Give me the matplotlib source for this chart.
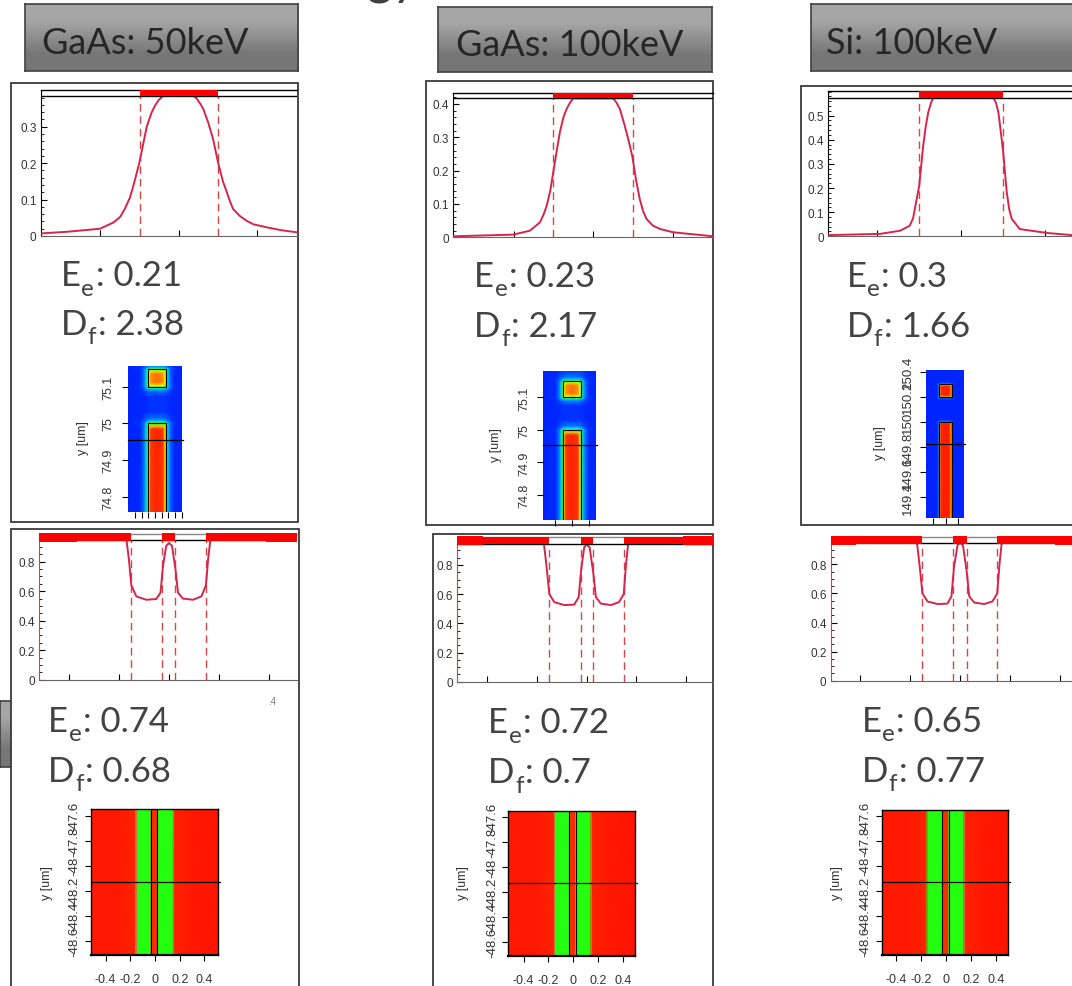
import numpy as np
import matplotlib.pyplot as plt
from matplotlib.colors import LinearSegmentedColormap
from matplotlib.patches import Rectangle

W, H = 1072, 987

plt.rcParams['font.family'] = ['Liberation Sans', 'DejaVu Sans']

# ---------------- values ----------------
headers = ["GaAs: 50keV", "GaAs: 100keV", "Si: 100keV"]
ee_top = ["0.21", "0.23", "0.3"]
df_top = ["2.38", "2.17", "1.66"]
ee_bot = ["0.74", "0.72", "0.65"]
df_bot = ["0.68", "0.7", "0.77"]

# top row: single wire, intensity profile
top_x_gaas50 = [-0.352, -0.28, -0.201, -0.167, -0.150, -0.138, -0.125, -0.116, -0.101, -0.082,
                -0.070, -0.061, -0.052, -0.040, 0.036, 0.045, 0.055, 0.062, 0.075, 0.087,
                0.100, 0.112, 0.122, 0.130, 0.138, 0.155, 0.172, 0.190, 0.223, 0.260, 0.301]
top_y_gaas50 = [0.007, 0.012, 0.020, 0.037, 0.052, 0.074, 0.105, 0.138, 0.200, 0.300,
                0.338, 0.358, 0.373, 0.385, 0.385, 0.378, 0.362, 0.349, 0.310, 0.266,
                0.200, 0.150, 0.120, 0.095, 0.074, 0.055, 0.042, 0.032, 0.024, 0.016, 0.010]
top_x_gaas100 = [-0.352, -0.201, -0.159, -0.134, -0.125, -0.117, -0.108, -0.1006, -0.092, -0.084,
                 -0.075, -0.067, -0.058, -0.050, 0.050, 0.058, 0.067, 0.078, 0.088, 0.098,
                 0.108, 0.117, 0.125, 0.134, 0.150, 0.168, 0.201, 0.302]
top_y_gaas100 = [0.003, 0.008, 0.020, 0.045, 0.068, 0.095, 0.140, 0.195, 0.258, 0.315,
                 0.360, 0.385, 0.405, 0.417, 0.417, 0.405, 0.385, 0.340, 0.295, 0.245,
                 0.170, 0.115, 0.080, 0.055, 0.035, 0.025, 0.015, 0.003]
top_x_si100 = [-0.317, -0.194, -0.146, -0.123, -0.115, -0.111, -0.1005, -0.091, -0.085, -0.079,
               -0.072, -0.067, 0.076, 0.082, 0.088, 0.094, 0.0995, 0.108, 0.114, 0.120,
               0.139, 0.203, 0.263, 0.300]
top_y_si100 = [0.005, 0.010, 0.023, 0.044, 0.075, 0.113, 0.210, 0.376, 0.455, 0.514,
               0.555, 0.573, 0.573, 0.555, 0.514, 0.430, 0.348, 0.182, 0.110, 0.072,
               0.030, 0.014, 0.005, 0.004]
top_edges = [-0.1, 0.1]

# bottom row: split wire, intensity profile
bot_x_gaas50 = [-0.52, -0.2, -0.171, -0.161, -0.151, -0.131, -0.091, -0.051, -0.034, -0.024, -0.011, 0.0,
                0.012, 0.026, 0.036, 0.056, 0.096, 0.13, 0.148, 0.157, 0.166, 0.2, 0.512]
bot_y_gaas50 = [0.965, 0.965, 0.954, 0.82, 0.64, 0.565, 0.542, 0.547, 0.59, 0.773, 0.908, 0.927,
                0.908, 0.75, 0.59, 0.55, 0.542, 0.565, 0.64, 0.82, 0.95, 0.965, 0.965]
bot_x_gaas100 = [-0.52, -0.2, -0.172, -0.162, -0.150, -0.13, -0.09, -0.05, -0.032, -0.022, -0.01, 0.0,
                 0.012, 0.027, 0.037, 0.057, 0.097, 0.13, 0.149, 0.158, 0.167, 0.2, 0.509]
bot_y_gaas100 = [0.965, 0.965, 0.95, 0.80, 0.60, 0.545, 0.525, 0.528, 0.58, 0.77, 0.92, 0.94,
                 0.92, 0.74, 0.58, 0.535, 0.525, 0.545, 0.60, 0.80, 0.95, 0.965, 0.965]
bot_x_si100 = [-0.517, -0.2, -0.172, -0.162, -0.150, -0.13, -0.09, -0.05, -0.034, -0.024, -0.01, 0.0,
               0.012, 0.027, 0.037, 0.057, 0.097, 0.13, 0.149, 0.158, 0.167, 0.2, 0.51]
bot_y_si100 = [0.965, 0.965, 0.95, 0.80, 0.60, 0.545, 0.527, 0.53, 0.58, 0.78, 0.93, 0.95,
               0.93, 0.75, 0.58, 0.537, 0.527, 0.545, 0.60, 0.80, 0.95, 0.965, 0.965]
bot_edges_gaas50 = [-0.151, -0.027, 0.026, 0.150]
bot_edges_gaas100 = [-0.150, -0.024, 0.027, 0.150]
bot_edges_si100 = [-0.150, -0.027, 0.027, 0.150]

# top row field maps: column profiles (0 = background, 1 = peak)
prof_bg = [0.10, 0.11, 0.12, 0.13, 0.13, 0.14, 0.14, 0.14, 0.14, 0.14, 0.13, 0.13, 0.12, 0.11, 0.10]
prof_halo2 = [0.10, 0.12, 0.16, 0.20, 0.22, 0.24, 0.25, 0.25, 0.25, 0.24, 0.22, 0.20, 0.16, 0.12, 0.10]
prof_halo = [0.10, 0.13, 0.20, 0.28, 0.33, 0.36, 0.38, 0.38, 0.38, 0.36, 0.33, 0.28, 0.20, 0.13, 0.10]
prof_ring = [0.10, 0.14, 0.22, 0.34, 0.45, 0.50, 0.52, 0.52, 0.52, 0.50, 0.45, 0.34, 0.22, 0.14, 0.10]
prof_wtop = [0.10, 0.13, 0.22, 0.34, 0.48, 0.62, 0.72, 0.75, 0.72, 0.62, 0.48, 0.34, 0.22, 0.13, 0.10]
prof_wire = [0.10, 0.12, 0.22, 0.34, 0.48, 0.72, 0.93, 0.97, 0.93, 0.72, 0.48, 0.34, 0.22, 0.12, 0.10]
prof_sedge = [0.10, 0.13, 0.22, 0.34, 0.48, 0.60, 0.66, 0.68, 0.66, 0.60, 0.48, 0.34, 0.22, 0.13, 0.10]
prof_score = [0.10, 0.12, 0.22, 0.34, 0.48, 0.66, 0.80, 0.85, 0.80, 0.66, 0.48, 0.34, 0.22, 0.12, 0.10]
prof_gaas = {'bg': prof_bg, 'halo2': prof_halo2, 'halo': prof_halo, 'ring': prof_ring,
             'wtop': prof_wtop, 'wire': prof_wire, 'sedge': prof_sedge, 'score': prof_score}
# silicon map is sharper
prof_si = {'bg': [0.10] * 15,
           'halo': [0.10, 0.10, 0.11, 0.13, 0.18, 0.22, 0.24, 0.24, 0.24, 0.22, 0.18, 0.13, 0.11, 0.10, 0.10],
           'ring': [0.10, 0.10, 0.12, 0.16, 0.30, 0.48, 0.52, 0.52, 0.52, 0.48, 0.30, 0.16, 0.12, 0.10, 0.10],
           'wtop': [0.10, 0.10, 0.11, 0.14, 0.30, 0.70, 0.85, 0.88, 0.85, 0.70, 0.30, 0.14, 0.11, 0.10, 0.10],
           'wire': [0.10, 0.10, 0.10, 0.12, 0.22, 0.75, 0.97, 0.98, 0.97, 0.75, 0.22, 0.12, 0.10, 0.10, 0.10],
           'sedge': [0.10, 0.10, 0.11, 0.14, 0.28, 0.62, 0.78, 0.80, 0.78, 0.62, 0.28, 0.14, 0.11, 0.10, 0.10],
           'score': [0.10, 0.10, 0.10, 0.12, 0.22, 0.75, 0.96, 0.97, 0.96, 0.75, 0.22, 0.12, 0.10, 0.10, 0.10]}

ht_x_gaas50 = [-0.08, -0.045, -0.034, -0.027, -0.022, -0.018, -0.012, 0.006, 0.024, 0.030, 0.034, 0.039, 0.046, 0.057, 0.08]
ht_y_gaas50 = [74.757, 74.985, 74.993, 75.0, 75.005, 75.012, 75.03, 75.075, 75.09, 75.096, 75.1,
               75.104, 75.112, 75.136, 75.144, 75.148, 75.152, 75.156]
ht_rows_gaas50 = ['wire', 'wire', 'wtop', 'ring', 'halo', 'halo2', 'bg', 'bg', 'halo2', 'halo', 'ring',
                  'sedge', 'score', 'score', 'sedge', 'ring', 'halo', 'halo2']
ht_x_gaas100 = [-0.085, -0.05, -0.04, -0.033, -0.028, -0.024, -0.018, 0.0, 0.017, 0.023, 0.027, 0.032, 0.039, 0.05, 0.07]
ht_y_gaas100 = [74.724, 74.985, 74.993, 75.0, 75.005, 75.012, 75.03, 75.075, 75.09, 75.096, 75.1,
                75.104, 75.112, 75.138, 75.146, 75.15, 75.154, 75.162, 75.182]
ht_rows_gaas100 = ['wire', 'wire', 'wtop', 'ring', 'halo', 'halo2', 'bg', 'bg', 'halo2', 'halo', 'ring',
                   'sedge', 'score', 'score', 'sedge', 'ring', 'halo', 'halo2', 'bg']
ht_x_si100 = [-0.079, -0.05, -0.04, -0.033, -0.028, -0.024, -0.018, -0.001, 0.016, 0.022, 0.026, 0.031, 0.038, 0.05, 0.073]
ht_y_si100 = [149.233, 149.99, 149.996, 150.0, 150.006, 150.02, 150.18, 150.194, 150.2, 150.206,
              150.215, 150.287, 150.296, 150.302, 150.308, 150.32, 150.414]
ht_rows_si100 = ['wire', 'wire', 'wtop', 'ring', 'halo', 'bg', 'bg', 'halo', 'ring', 'sedge',
                 'score', 'score', 'sedge', 'ring', 'halo', 'bg', 'bg']

# bottom row field maps: profile across x (uniform along y)
hb_x_gaas50 = [-0.52, -0.30, -0.156, -0.154, -0.033, -0.030, -0.027, 0.014, 0.017, 0.020, 0.147, 0.149, 0.30, 0.51]
hb_v_gaas50 = [0.985, 0.99, 0.965, 0.50, 0.50, 0.93, 0.95, 0.95, 0.93, 0.50, 0.50, 0.97, 0.99, 1.0]
hb_x_gaas100 = [-0.52, -0.30, -0.154, -0.152, -0.034, -0.030, -0.026, 0.015, 0.018, 0.021, 0.142, 0.144, 0.30, 0.51]
hb_v_gaas100 = [0.985, 0.99, 0.965, 0.50, 0.50, 0.93, 0.95, 0.95, 0.93, 0.50, 0.50, 0.97, 0.99, 1.0]
hb_x_si100 = [-0.52, -0.30, -0.153, -0.151, -0.032, -0.028, -0.024, 0.018, 0.020, 0.024, 0.143, 0.145, 0.30, 0.51]
hb_v_si100 = [0.985, 0.99, 0.965, 0.50, 0.50, 0.93, 0.95, 0.95, 0.93, 0.50, 0.50, 0.97, 0.99, 1.0]

ht_yticks_gaas = [74.8, 74.9, 75.0, 75.1]
ht_ylabels_gaas = ['74.8', '74.9', '75', '75.1']
ht_yticks_si = [149.4, 149.6, 149.8, 150.0, 150.2, 150.4]
ht_ylabels_si = ['149.4', '149.6', '149.8', '150', '150.2', '150.4']
hb_yticks = [-48.6, -48.4, -48.2, -48.0, -47.8, -47.6]
hb_ylabels = ['-48.6', '-48.4', '-48.2', '-48', '-47.8', '-47.6']
hb_xticks = [-0.4, -0.2, 0, 0.2, 0.4]
hb_xlabels = ['-0.4', '-0.2', '0', '0.2', '0.4']

# ---------------- drawing ----------------
field = LinearSegmentedColormap.from_list('field', [
    (0.0, '#0010ff'), (0.12, '#0028ff'), (0.28, '#0090ff'), (0.38, '#00e8e0'),
    (0.5, '#22ff10'), (0.66, '#e8ff00'), (0.8, '#ff9000'), (0.93, '#ff3800'), (1.0, '#ff1400')])
grays = LinearSegmentedColormap.from_list('grays', ['#a6a6a6', '#767676'])
curve_c = '#d6254d'
dash_c = '#d94444'
txt_font = dict(family=['Lato', 'DejaVu Sans'], weight='normal')

fig = plt.figure(figsize=(W / 100, H / 100), dpi=100)
renderer = fig.canvas.get_renderer()


def px(x0, y0, x1, y1):
    return [x0 / W, 1 - y1 / H, (x1 - x0) / W, (y1 - y0) / H]


def frame(x0, y0, x1, y1):
    fig.add_artist(Rectangle((x0 / W, 1 - y1 / H), (x1 - x0) / W, (y1 - y0) / H,
                             transform=fig.transFigure, fc='white', ec='#3a3a3a', lw=1.3, zorder=-1))


def gray_box(rect, z=0):
    ax = fig.add_axes(px(*rect), zorder=z)
    ax.imshow([[0], [1]], cmap=grays, aspect='auto', extent=(0, 1, 0, 1), interpolation='bilinear')
    ax.set_xticks([]); ax.set_yticks([])
    for s in ax.spines.values():
        s.set_color('#404040'); s.set_linewidth(1.2)


def ftext(x, y, s, **kw):
    return fig.text(x / W, 1 - y / H, s, ha='left', va='baseline', **kw)


def sub_label(x, y, main, sub, rest, size=25, color='#434343'):
    # letter, lowered subscript, then the value
    t = ftext(x, y, main, fontsize=size, color=color, **txt_font)
    x1 = t.get_window_extent(renderer).x1 + 0.5
    t = ftext(x1, y + 9.5, sub, fontsize=size * 0.7, color=color, **txt_font)
    x2 = t.get_window_extent(renderer).x1 + 1.5
    ftext(x2, y, rest, fontsize=size, color=color, **txt_font)


def top_profile(rect, xs, ys, xlim, ytop, yline, yticks, edges):
    ax = fig.add_axes(px(*rect))
    ax.set_facecolor('none')
    ax.set_xlim(*xlim); ax.set_ylim(0, ytop)
    ax.plot(xs, ys, color=curve_c, lw=1.4, zorder=3)
    for e in edges:
        ax.plot([e, e], [0, yline], color=dash_c, lw=1, dashes=(5.5, 3.5), zorder=2)
    ax.axhline(ytop, color='black', lw=1, clip_on=False)
    ax.axhline(yline, color='black', lw=1, zorder=4)
    ax.fill_between(edges, yline, ytop, color='#ff0000', lw=0, zorder=5)
    for s in ['top', 'right']:
        ax.spines[s].set_visible(False)
    ax.spines['bottom'].set_color('#666666')
    ax.set_yticks(yticks, ['0' if v == 0 else f'{v:g}' for v in yticks])
    ax.set_yticks(np.arange(0, ytop, 0.02), minor=True)
    ax.set_xticks([-0.2, 0, 0.2], [])
    ax.tick_params(direction='in', length=4, width=0.8, labelsize=8.5, labelcolor='#333333', pad=3)
    ax.tick_params(which='minor', direction='in', length=2, width=0.6)
    return ax


def bot_profile(rect, xs, ys, xlim, edges, thick):
    ax = fig.add_axes(px(*rect))
    ax.set_facecolor('none')
    ax.set_xlim(*xlim); ax.set_ylim(0, 0.99)
    ax.plot(xs, ys, color=curve_c, lw=1.4, zorder=3)
    for e in edges:
        ax.plot([e, e], [0, 0.945], color=dash_c, lw=1, dashes=(5.5, 3.5), zorder=2)
    ax.hlines([0.945], xlim[0], xlim[1], colors='black', lw=1, zorder=4)
    ax.hlines([0.99], xlim[0], xlim[1], colors='#888888', lw=1, zorder=4, clip_on=False)
    segs = [(xlim[0], edges[0]), (edges[1], edges[2]), (edges[3], xlim[1])]
    for a, b in segs:
        ax.fill_between([a, b], 0.942, 0.992, color='#ff0000', lw=0, zorder=5, clip_on=False)
    for a, b in thick:
        ax.fill_between([a, b], 0.935, 0.998, color='#ff0000', lw=0, zorder=5, clip_on=False)
    for s in ['top', 'right']:
        ax.spines[s].set_visible(False)
    ax.spines['bottom'].set_color('#666666')
    ax.spines['left'].set_color('#e03a3a')
    ax.set_yticks([0, 0.2, 0.4, 0.6, 0.8], ['0', '0.2', '0.4', '0.6', '0.8'])
    ax.set_yticks(np.arange(0, 0.95, 0.05), minor=True)
    ax.set_xticks(hb_xticks, [])
    ax.tick_params(direction='in', length=4, width=0.8, labelsize=8.5, labelcolor='#333333', pad=3)
    ax.tick_params(which='minor', direction='in', length=2, width=0.6)
    return ax


def heat_top(rect, xn, yn, rows, prof, xlim, ylim, wire_x, wire_top, sq_y, hline, xticks,
             yticks, ylabels, lab_font, lab_pad, ylab_xy):
    ax = fig.add_axes(px(*rect))
    C = np.array([prof[r] for r in rows])
    ax.pcolormesh(xn, yn, C, cmap=field, vmin=0, vmax=1, shading='gouraud')
    ax.plot([wire_x[0], wire_x[0], wire_x[1], wire_x[1]], [ylim[0], wire_top, wire_top, ylim[0]],
            color='black', lw=0.8)
    ax.add_patch(Rectangle((wire_x[0], sq_y[0]), wire_x[1] - wire_x[0], sq_y[1] - sq_y[0],
                           fill=False, ec='black', lw=0.8))
    ax.plot([xlim[0], xlim[1] + 0.004], [hline, hline], color='black', lw=0.9, clip_on=False)
    ax.set_xlim(*xlim); ax.set_ylim(*ylim)
    for s in ax.spines.values():
        s.set_visible(False)
    ax.set_xticks(xticks, [])
    ax.set_yticks(yticks, ylabels, rotation=90, va='center')
    ax.tick_params(direction='out', length=4.5, width=0.8, pad=lab_pad, labelcolor='#333333')
    for t in ax.get_yticklabels():
        t.set_fontfamily(lab_font[0]); t.set_fontsize(lab_font[1])
    fig.text(ylab_xy[0] / W, 1 - ylab_xy[1] / H, 'y [um]', rotation=90, ha='center', va='center',
             fontsize=9, color='#333333')


def heat_bot(rect, xn, vals, xlim, ylim, outline, bounds, hline, ylab_xy):
    ax = fig.add_axes(px(*rect))
    ax.pcolormesh(xn, ylim, np.array([vals, vals]), cmap=field, vmin=0, vmax=1, shading='gouraud')
    for b in bounds:
        ax.axvline(b, color='#d07040', lw=0.8)
    for e in outline:
        ax.axvline(e, color='black', lw=0.8)
    ax.plot([xlim[0], xlim[1] + 0.015], [hline, hline], color='black', lw=0.9, clip_on=False)
    ax.set_xlim(*xlim); ax.set_ylim(*ylim)
    for s in ax.spines.values():
        s.set_color('black'); s.set_linewidth(1.0)
    ax.spines['bottom'].set_linewidth(1.6)
    ax.set_xticks(hb_xticks, hb_xlabels)
    ax.set_yticks(hb_yticks, hb_ylabels, rotation=90, va='center')
    ax.tick_params(direction='out', length=4.5, width=0.8, labelsize=9.5, labelcolor='#333333')
    ax.tick_params(axis='x', pad=8.5, labelsize=9)
    ax.tick_params(axis='y', pad=3)
    fig.text(ylab_xy[0] / W, 1 - ylab_xy[1] / H, 'y [um]', rotation=90, ha='center', va='center',
             fontsize=9, color='#333333')


# slide furniture
gray_box((0, 702, 11.7, 768), z=-2)
frame(11, 84, 298, 523)
frame(426, 82, 713, 526)
frame(800.7, 86.7, 1090, 525.7)
frame(11, 530, 299, 1000)
frame(432.7, 535, 713.3, 1000)
ftext(366, -7, 'gy', fontsize=36, color='#404040', **txt_font)

gray_box((25, 5, 298, 72))
gray_box((438, 8, 712, 73))
gray_box((811, 5, 1090, 72))
for (x, y), s in zip([(41.7, 53.5), (456, 55.5), (826, 53.5)], headers):
    ftext(x, y, s, fontsize=26, color='#262626', **txt_font)

# top row
top_profile((40.7, 91, 297, 237), top_x_gaas50, top_y_gaas50, (-0.352, 0.3006), 0.401, 0.385,
            [0, 0.1, 0.2, 0.3], top_edges)
top_profile((453.3, 94, 713.3, 238.3), top_x_gaas100, top_y_gaas100, (-0.352, 0.302), 0.433, 0.417,
            [0, 0.1, 0.2, 0.3, 0.4], top_edges)
top_profile((828.3, 92.3, 1087.4, 237.3), top_x_si100, top_y_si100, (-0.317, 0.30), 0.601, 0.573,
            [0, 0.1, 0.2, 0.3, 0.4, 0.5], top_edges)

for (x, y1, y2), e, d in zip([(61, 286, 335), (474, 287, 337), (846.7, 286.7, 336.7)], ee_top, df_top):
    sub_label(x, y1, 'E', 'e', ': ' + e)
    sub_label(x, y2, 'D', 'f', ': ' + d)

heat_top((128.3, 367.3, 181.7, 513.3), ht_x_gaas50, ht_y_gaas50, ht_rows_gaas50, prof_gaas,
         (-0.08, 0.08), (74.757, 75.156), (-0.02, 0.032), 75.0, (75.1, 75.148), 74.955,
         [-0.06, -0.04, -0.02, 0, 0.02, 0.04, 0.06, 0.08], ht_yticks_gaas, ht_ylabels_gaas,
         (['Liberation Sans Narrow', 'Liberation Sans'], 9), 5.5, (82.7, 438.3))
heat_top((543.3, 371.7, 596, 520.7), ht_x_gaas100, ht_y_gaas100, ht_rows_gaas100, prof_gaas,
         (-0.085, 0.07), (74.724, 75.182), (-0.026, 0.025), 75.0, (75.1, 75.15), 74.954,
         [-0.05, 0, 0.05], ht_yticks_gaas, ht_ylabels_gaas,
         (['Liberation Sans Narrow', 'Liberation Sans'], 9), 5, (496, 445))
heat_top((926, 371, 964, 519.3), ht_x_si100, ht_y_si100, ht_rows_si100, prof_si,
         (-0.079, 0.073), (149.233, 150.414), (-0.026, 0.024), 150.0, (150.2, 150.302), 149.824,
         [-0.05, 0, 0.05], ht_yticks_si, ht_ylabels_si,
         (['Liberation Sans'], 9.5), 4.5, (880, 443))

# bottom row
bot_profile((39.3, 534.7, 296.7, 680.7), bot_x_gaas50, bot_y_gaas50, (-0.52, 0.512), bot_edges_gaas50,
            [(-0.52, -0.368), (0.39, 0.512)])
bot_profile((457.3, 538.2, 713.3, 682.7), bot_x_gaas100, bot_y_gaas100, (-0.52, 0.509), bot_edges_gaas100,
            [(-0.52, -0.416), (0.388, 0.509)])
bot_profile((830.7, 537.7, 1087.5, 681.7), bot_x_si100, bot_y_si100, (-0.517, 0.51), bot_edges_si100,
            [(-0.517, -0.416), (0.38, 0.51)])
ftext(268, 705, '.4', fontsize=7, color='#777777')

for (x, y1, y2), e, d in zip([(48.3, 731.7, 781.7), (488.3, 733.3, 783.3), (861.7, 731.7, 781.7)], ee_bot, df_bot):
    sub_label(x, y1, 'E', 'e', ': ' + e)
    sub_label(x, y2, 'D', 'f', ': ' + d)

heat_bot((90.7, 810, 217.7, 956), hb_x_gaas50, hb_v_gaas50, (-0.52, 0.507), (-48.714, -47.546),
         [-0.032, 0.019], [-0.155, 0.148], -48.128, (46.7, 882.7))
heat_bot((508.3, 812.3, 635, 957.3), hb_x_gaas100, hb_v_gaas100, (-0.524, 0.498), (-48.717, -47.552),
         [-0.032, 0.019], [-0.153, 0.143], -48.131, (463.3, 883))
heat_bot((881.7, 811, 1007.7, 955.7), hb_x_si100, hb_v_si100, (-0.514, 0.494), (-48.71, -47.554),
         [-0.030, 0.022], [-0.152, 0.144], -48.128, (836.7, 883))

fig.savefig('out.png', dpi=100, facecolor='white')
